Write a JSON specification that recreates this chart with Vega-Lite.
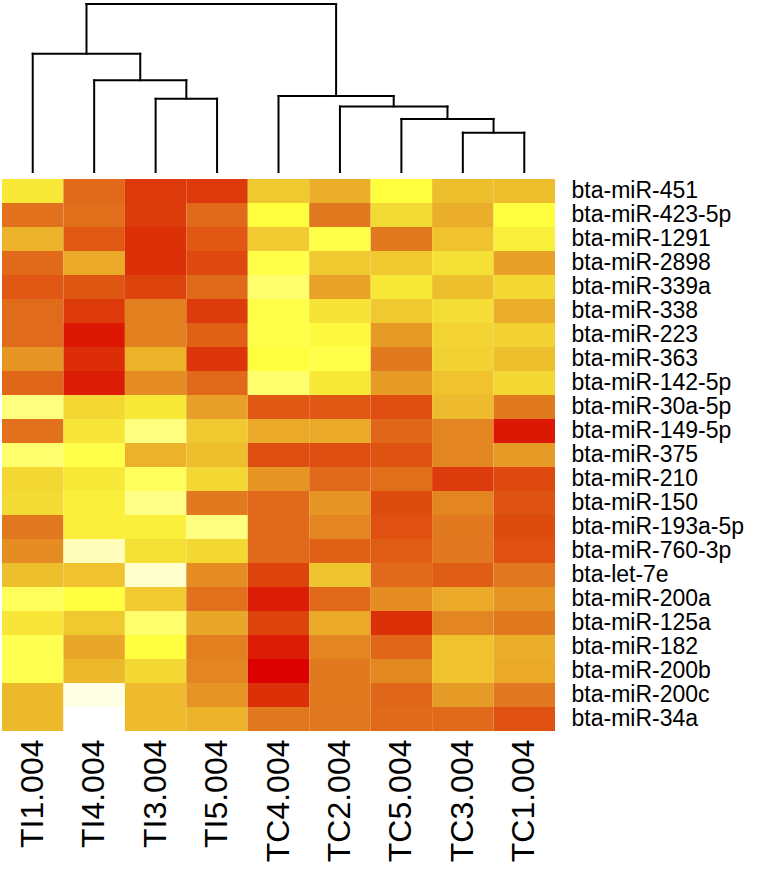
{
  "$schema": "https://vega.github.io/schema/vega-lite/v6.json",
  "padding": {"left": 2, "top": 2, "right": 0, "bottom": 0},
  "autosize": {"type": "pad"},
  "config": {"view": {"stroke": null}, "font": "Liberation Sans"},
  "datasets": {
    "dendro": [
      {"x": 0.5, "x2": 0.5, "y": 0, "y2": 352},
      {"x": 1.5, "x2": 1.5, "y": 0, "y2": 273},
      {"x": 2.5, "x2": 2.5, "y": 0, "y2": 218},
      {"x": 3.5, "x2": 3.5, "y": 0, "y2": 218},
      {"x": 4.5, "x2": 4.5, "y": 0, "y2": 226},
      {"x": 5.5, "x2": 5.5, "y": 0, "y2": 195},
      {"x": 6.5, "x2": 6.5, "y": 0, "y2": 158},
      {"x": 7.5, "x2": 7.5, "y": 0, "y2": 117},
      {"x": 8.5, "x2": 8.5, "y": 0, "y2": 117},
      {"x": 2.5, "x2": 3.5, "y": 218, "y2": 218},
      {"x": 1.5, "x2": 3.0, "y": 273, "y2": 273},
      {"x": 3.0, "x2": 3.0, "y": 218, "y2": 273},
      {"x": 0.5, "x2": 2.25, "y": 352, "y2": 352},
      {"x": 2.25, "x2": 2.25, "y": 273, "y2": 352},
      {"x": 7.5, "x2": 8.5, "y": 117, "y2": 117},
      {"x": 6.5, "x2": 8.0, "y": 158, "y2": 158},
      {"x": 8.0, "x2": 8.0, "y": 117, "y2": 158},
      {"x": 5.5, "x2": 7.25, "y": 195, "y2": 195},
      {"x": 7.25, "x2": 7.25, "y": 158, "y2": 195},
      {"x": 4.5, "x2": 6.375, "y": 226, "y2": 226},
      {"x": 6.375, "x2": 6.375, "y": 195, "y2": 226},
      {"x": 1.375, "x2": 5.4375, "y": 500, "y2": 500},
      {"x": 1.375, "x2": 1.375, "y": 352, "y2": 500},
      {"x": 5.4375, "x2": 5.4375, "y": 226, "y2": 500}
    ],
    "heat": [
      {"mirna": "bta-miR-451", "sample": "TI1.004", "v": 0.78},
      {"mirna": "bta-miR-451", "sample": "TI4.004", "v": 0.30},
      {"mirna": "bta-miR-451", "sample": "TI3.004", "v": 0.12},
      {"mirna": "bta-miR-451", "sample": "TI5.004", "v": 0.12},
      {"mirna": "bta-miR-451", "sample": "TC4.004", "v": 0.67},
      {"mirna": "bta-miR-451", "sample": "TC2.004", "v": 0.58},
      {"mirna": "bta-miR-451", "sample": "TC5.004", "v": 0.85},
      {"mirna": "bta-miR-451", "sample": "TC3.004", "v": 0.64},
      {"mirna": "bta-miR-451", "sample": "TC1.004", "v": 0.64},

      {"mirna": "bta-miR-423-5p", "sample": "TI1.004", "v": 0.33},
      {"mirna": "bta-miR-423-5p", "sample": "TI4.004", "v": 0.32},
      {"mirna": "bta-miR-423-5p", "sample": "TI3.004", "v": 0.13},
      {"mirna": "bta-miR-423-5p", "sample": "TI5.004", "v": 0.30},
      {"mirna": "bta-miR-423-5p", "sample": "TC4.004", "v": 0.85},
      {"mirna": "bta-miR-423-5p", "sample": "TC2.004", "v": 0.37},
      {"mirna": "bta-miR-423-5p", "sample": "TC5.004", "v": 0.73},
      {"mirna": "bta-miR-423-5p", "sample": "TC3.004", "v": 0.58},
      {"mirna": "bta-miR-423-5p", "sample": "TC1.004", "v": 0.85},

      {"mirna": "bta-miR-1291", "sample": "TI1.004", "v": 0.60},
      {"mirna": "bta-miR-1291", "sample": "TI4.004", "v": 0.25},
      {"mirna": "bta-miR-1291", "sample": "TI3.004", "v": 0.10},
      {"mirna": "bta-miR-1291", "sample": "TI5.004", "v": 0.24},
      {"mirna": "bta-miR-1291", "sample": "TC4.004", "v": 0.68},
      {"mirna": "bta-miR-1291", "sample": "TC2.004", "v": 0.86},
      {"mirna": "bta-miR-1291", "sample": "TC5.004", "v": 0.37},
      {"mirna": "bta-miR-1291", "sample": "TC3.004", "v": 0.65},
      {"mirna": "bta-miR-1291", "sample": "TC1.004", "v": 0.80},

      {"mirna": "bta-miR-2898", "sample": "TI1.004", "v": 0.30},
      {"mirna": "bta-miR-2898", "sample": "TI4.004", "v": 0.56},
      {"mirna": "bta-miR-2898", "sample": "TI3.004", "v": 0.10},
      {"mirna": "bta-miR-2898", "sample": "TI5.004", "v": 0.18},
      {"mirna": "bta-miR-2898", "sample": "TC4.004", "v": 0.86},
      {"mirna": "bta-miR-2898", "sample": "TC2.004", "v": 0.67},
      {"mirna": "bta-miR-2898", "sample": "TC5.004", "v": 0.67},
      {"mirna": "bta-miR-2898", "sample": "TC3.004", "v": 0.75},
      {"mirna": "bta-miR-2898", "sample": "TC1.004", "v": 0.52},

      {"mirna": "bta-miR-339a", "sample": "TI1.004", "v": 0.24},
      {"mirna": "bta-miR-339a", "sample": "TI4.004", "v": 0.23},
      {"mirna": "bta-miR-339a", "sample": "TI3.004", "v": 0.16},
      {"mirna": "bta-miR-339a", "sample": "TI5.004", "v": 0.30},
      {"mirna": "bta-miR-339a", "sample": "TC4.004", "v": 0.90},
      {"mirna": "bta-miR-339a", "sample": "TC2.004", "v": 0.53},
      {"mirna": "bta-miR-339a", "sample": "TC5.004", "v": 0.78},
      {"mirna": "bta-miR-339a", "sample": "TC3.004", "v": 0.64},
      {"mirna": "bta-miR-339a", "sample": "TC1.004", "v": 0.72},

      {"mirna": "bta-miR-338", "sample": "TI1.004", "v": 0.31},
      {"mirna": "bta-miR-338", "sample": "TI4.004", "v": 0.12},
      {"mirna": "bta-miR-338", "sample": "TI3.004", "v": 0.40},
      {"mirna": "bta-miR-338", "sample": "TI5.004", "v": 0.13},
      {"mirna": "bta-miR-338", "sample": "TC4.004", "v": 0.86},
      {"mirna": "bta-miR-338", "sample": "TC2.004", "v": 0.76},
      {"mirna": "bta-miR-338", "sample": "TC5.004", "v": 0.67},
      {"mirna": "bta-miR-338", "sample": "TC3.004", "v": 0.74},
      {"mirna": "bta-miR-338", "sample": "TC1.004", "v": 0.58},

      {"mirna": "bta-miR-223", "sample": "TI1.004", "v": 0.31},
      {"mirna": "bta-miR-223", "sample": "TI4.004", "v": 0.05},
      {"mirna": "bta-miR-223", "sample": "TI3.004", "v": 0.40},
      {"mirna": "bta-miR-223", "sample": "TI5.004", "v": 0.27},
      {"mirna": "bta-miR-223", "sample": "TC4.004", "v": 0.86},
      {"mirna": "bta-miR-223", "sample": "TC2.004", "v": 0.83},
      {"mirna": "bta-miR-223", "sample": "TC5.004", "v": 0.50},
      {"mirna": "bta-miR-223", "sample": "TC3.004", "v": 0.71},
      {"mirna": "bta-miR-223", "sample": "TC1.004", "v": 0.70},

      {"mirna": "bta-miR-363", "sample": "TI1.004", "v": 0.48},
      {"mirna": "bta-miR-363", "sample": "TI4.004", "v": 0.09},
      {"mirna": "bta-miR-363", "sample": "TI3.004", "v": 0.60},
      {"mirna": "bta-miR-363", "sample": "TI5.004", "v": 0.11},
      {"mirna": "bta-miR-363", "sample": "TC4.004", "v": 0.85},
      {"mirna": "bta-miR-363", "sample": "TC2.004", "v": 0.86},
      {"mirna": "bta-miR-363", "sample": "TC5.004", "v": 0.37},
      {"mirna": "bta-miR-363", "sample": "TC3.004", "v": 0.70},
      {"mirna": "bta-miR-363", "sample": "TC1.004", "v": 0.64},

      {"mirna": "bta-miR-142-5p", "sample": "TI1.004", "v": 0.29},
      {"mirna": "bta-miR-142-5p", "sample": "TI4.004", "v": 0.06},
      {"mirna": "bta-miR-142-5p", "sample": "TI3.004", "v": 0.45},
      {"mirna": "bta-miR-142-5p", "sample": "TI5.004", "v": 0.30},
      {"mirna": "bta-miR-142-5p", "sample": "TC4.004", "v": 0.90},
      {"mirna": "bta-miR-142-5p", "sample": "TC2.004", "v": 0.78},
      {"mirna": "bta-miR-142-5p", "sample": "TC5.004", "v": 0.50},
      {"mirna": "bta-miR-142-5p", "sample": "TC3.004", "v": 0.65},
      {"mirna": "bta-miR-142-5p", "sample": "TC1.004", "v": 0.72},

      {"mirna": "bta-miR-30a-5p", "sample": "TI1.004", "v": 0.92},
      {"mirna": "bta-miR-30a-5p", "sample": "TI4.004", "v": 0.72},
      {"mirna": "bta-miR-30a-5p", "sample": "TI3.004", "v": 0.78},
      {"mirna": "bta-miR-30a-5p", "sample": "TI5.004", "v": 0.52},
      {"mirna": "bta-miR-30a-5p", "sample": "TC4.004", "v": 0.24},
      {"mirna": "bta-miR-30a-5p", "sample": "TC2.004", "v": 0.24},
      {"mirna": "bta-miR-30a-5p", "sample": "TC5.004", "v": 0.20},
      {"mirna": "bta-miR-30a-5p", "sample": "TC3.004", "v": 0.63},
      {"mirna": "bta-miR-30a-5p", "sample": "TC1.004", "v": 0.37},

      {"mirna": "bta-miR-149-5p", "sample": "TI1.004", "v": 0.33},
      {"mirna": "bta-miR-149-5p", "sample": "TI4.004", "v": 0.77},
      {"mirna": "bta-miR-149-5p", "sample": "TI3.004", "v": 0.92},
      {"mirna": "bta-miR-149-5p", "sample": "TI5.004", "v": 0.67},
      {"mirna": "bta-miR-149-5p", "sample": "TC4.004", "v": 0.56},
      {"mirna": "bta-miR-149-5p", "sample": "TC2.004", "v": 0.56},
      {"mirna": "bta-miR-149-5p", "sample": "TC5.004", "v": 0.29},
      {"mirna": "bta-miR-149-5p", "sample": "TC3.004", "v": 0.42},
      {"mirna": "bta-miR-149-5p", "sample": "TC1.004", "v": 0.05},

      {"mirna": "bta-miR-375", "sample": "TI1.004", "v": 0.90},
      {"mirna": "bta-miR-375", "sample": "TI4.004", "v": 0.86},
      {"mirna": "bta-miR-375", "sample": "TI3.004", "v": 0.60},
      {"mirna": "bta-miR-375", "sample": "TI5.004", "v": 0.64},
      {"mirna": "bta-miR-375", "sample": "TC4.004", "v": 0.20},
      {"mirna": "bta-miR-375", "sample": "TC2.004", "v": 0.20},
      {"mirna": "bta-miR-375", "sample": "TC5.004", "v": 0.22},
      {"mirna": "bta-miR-375", "sample": "TC3.004", "v": 0.42},
      {"mirna": "bta-miR-375", "sample": "TC1.004", "v": 0.50},

      {"mirna": "bta-miR-210", "sample": "TI1.004", "v": 0.72},
      {"mirna": "bta-miR-210", "sample": "TI4.004", "v": 0.78},
      {"mirna": "bta-miR-210", "sample": "TI3.004", "v": 0.88},
      {"mirna": "bta-miR-210", "sample": "TI5.004", "v": 0.72},
      {"mirna": "bta-miR-210", "sample": "TC4.004", "v": 0.48},
      {"mirna": "bta-miR-210", "sample": "TC2.004", "v": 0.30},
      {"mirna": "bta-miR-210", "sample": "TC5.004", "v": 0.32},
      {"mirna": "bta-miR-210", "sample": "TC3.004", "v": 0.13},
      {"mirna": "bta-miR-210", "sample": "TC1.004", "v": 0.18},

      {"mirna": "bta-miR-150", "sample": "TI1.004", "v": 0.73},
      {"mirna": "bta-miR-150", "sample": "TI4.004", "v": 0.80},
      {"mirna": "bta-miR-150", "sample": "TI3.004", "v": 0.93},
      {"mirna": "bta-miR-150", "sample": "TI5.004", "v": 0.37},
      {"mirna": "bta-miR-150", "sample": "TC4.004", "v": 0.30},
      {"mirna": "bta-miR-150", "sample": "TC2.004", "v": 0.48},
      {"mirna": "bta-miR-150", "sample": "TC5.004", "v": 0.19},
      {"mirna": "bta-miR-150", "sample": "TC3.004", "v": 0.42},
      {"mirna": "bta-miR-150", "sample": "TC1.004", "v": 0.22},

      {"mirna": "bta-miR-193a-5p", "sample": "TI1.004", "v": 0.36},
      {"mirna": "bta-miR-193a-5p", "sample": "TI4.004", "v": 0.80},
      {"mirna": "bta-miR-193a-5p", "sample": "TI3.004", "v": 0.80},
      {"mirna": "bta-miR-193a-5p", "sample": "TI5.004", "v": 0.92},
      {"mirna": "bta-miR-193a-5p", "sample": "TC4.004", "v": 0.30},
      {"mirna": "bta-miR-193a-5p", "sample": "TC2.004", "v": 0.42},
      {"mirna": "bta-miR-193a-5p", "sample": "TC5.004", "v": 0.21},
      {"mirna": "bta-miR-193a-5p", "sample": "TC3.004", "v": 0.37},
      {"mirna": "bta-miR-193a-5p", "sample": "TC1.004", "v": 0.19},

      {"mirna": "bta-miR-760-3p", "sample": "TI1.004", "v": 0.45},
      {"mirna": "bta-miR-760-3p", "sample": "TI4.004", "v": 0.96},
      {"mirna": "bta-miR-760-3p", "sample": "TI3.004", "v": 0.75},
      {"mirna": "bta-miR-760-3p", "sample": "TI5.004", "v": 0.72},
      {"mirna": "bta-miR-760-3p", "sample": "TC4.004", "v": 0.30},
      {"mirna": "bta-miR-760-3p", "sample": "TC2.004", "v": 0.27},
      {"mirna": "bta-miR-760-3p", "sample": "TC5.004", "v": 0.26},
      {"mirna": "bta-miR-760-3p", "sample": "TC3.004", "v": 0.36},
      {"mirna": "bta-miR-760-3p", "sample": "TC1.004", "v": 0.21},

      {"mirna": "bta-let-7e", "sample": "TI1.004", "v": 0.64},
      {"mirna": "bta-let-7e", "sample": "TI4.004", "v": 0.65},
      {"mirna": "bta-let-7e", "sample": "TI3.004", "v": 0.97},
      {"mirna": "bta-let-7e", "sample": "TI5.004", "v": 0.45},
      {"mirna": "bta-let-7e", "sample": "TC4.004", "v": 0.16},
      {"mirna": "bta-let-7e", "sample": "TC2.004", "v": 0.66},
      {"mirna": "bta-let-7e", "sample": "TC5.004", "v": 0.30},
      {"mirna": "bta-let-7e", "sample": "TC3.004", "v": 0.26},
      {"mirna": "bta-let-7e", "sample": "TC1.004", "v": 0.36},

      {"mirna": "bta-miR-200a", "sample": "TI1.004", "v": 0.88},
      {"mirna": "bta-miR-200a", "sample": "TI4.004", "v": 0.85},
      {"mirna": "bta-miR-200a", "sample": "TI3.004", "v": 0.68},
      {"mirna": "bta-miR-200a", "sample": "TI5.004", "v": 0.33},
      {"mirna": "bta-miR-200a", "sample": "TC4.004", "v": 0.06},
      {"mirna": "bta-miR-200a", "sample": "TC2.004", "v": 0.30},
      {"mirna": "bta-miR-200a", "sample": "TC5.004", "v": 0.45},
      {"mirna": "bta-miR-200a", "sample": "TC3.004", "v": 0.56},
      {"mirna": "bta-miR-200a", "sample": "TC1.004", "v": 0.48},

      {"mirna": "bta-miR-125a", "sample": "TI1.004", "v": 0.77},
      {"mirna": "bta-miR-125a", "sample": "TI4.004", "v": 0.67},
      {"mirna": "bta-miR-125a", "sample": "TI3.004", "v": 0.90},
      {"mirna": "bta-miR-125a", "sample": "TI5.004", "v": 0.55},
      {"mirna": "bta-miR-125a", "sample": "TC4.004", "v": 0.16},
      {"mirna": "bta-miR-125a", "sample": "TC2.004", "v": 0.56},
      {"mirna": "bta-miR-125a", "sample": "TC5.004", "v": 0.10},
      {"mirna": "bta-miR-125a", "sample": "TC3.004", "v": 0.42},
      {"mirna": "bta-miR-125a", "sample": "TC1.004", "v": 0.37},

      {"mirna": "bta-miR-182", "sample": "TI1.004", "v": 0.87},
      {"mirna": "bta-miR-182", "sample": "TI4.004", "v": 0.55},
      {"mirna": "bta-miR-182", "sample": "TI3.004", "v": 0.85},
      {"mirna": "bta-miR-182", "sample": "TI5.004", "v": 0.40},
      {"mirna": "bta-miR-182", "sample": "TC4.004", "v": 0.06},
      {"mirna": "bta-miR-182", "sample": "TC2.004", "v": 0.42},
      {"mirna": "bta-miR-182", "sample": "TC5.004", "v": 0.29},
      {"mirna": "bta-miR-182", "sample": "TC3.004", "v": 0.65},
      {"mirna": "bta-miR-182", "sample": "TC1.004", "v": 0.58},

      {"mirna": "bta-miR-200b", "sample": "TI1.004", "v": 0.87},
      {"mirna": "bta-miR-200b", "sample": "TI4.004", "v": 0.62},
      {"mirna": "bta-miR-200b", "sample": "TI3.004", "v": 0.72},
      {"mirna": "bta-miR-200b", "sample": "TI5.004", "v": 0.42},
      {"mirna": "bta-miR-200b", "sample": "TC4.004", "v": 0.0},
      {"mirna": "bta-miR-200b", "sample": "TC2.004", "v": 0.37},
      {"mirna": "bta-miR-200b", "sample": "TC5.004", "v": 0.43},
      {"mirna": "bta-miR-200b", "sample": "TC3.004", "v": 0.65},
      {"mirna": "bta-miR-200b", "sample": "TC1.004", "v": 0.56},

      {"mirna": "bta-miR-200c", "sample": "TI1.004", "v": 0.62},
      {"mirna": "bta-miR-200c", "sample": "TI4.004", "v": 0.985},
      {"mirna": "bta-miR-200c", "sample": "TI3.004", "v": 0.63},
      {"mirna": "bta-miR-200c", "sample": "TI5.004", "v": 0.48},
      {"mirna": "bta-miR-200c", "sample": "TC4.004", "v": 0.10},
      {"mirna": "bta-miR-200c", "sample": "TC2.004", "v": 0.37},
      {"mirna": "bta-miR-200c", "sample": "TC5.004", "v": 0.29},
      {"mirna": "bta-miR-200c", "sample": "TC3.004", "v": 0.50},
      {"mirna": "bta-miR-200c", "sample": "TC1.004", "v": 0.36},

      {"mirna": "bta-miR-34a", "sample": "TI1.004", "v": 0.62},
      {"mirna": "bta-miR-34a", "sample": "TI4.004", "v": 1.0},
      {"mirna": "bta-miR-34a", "sample": "TI3.004", "v": 0.63},
      {"mirna": "bta-miR-34a", "sample": "TI5.004", "v": 0.60},
      {"mirna": "bta-miR-34a", "sample": "TC4.004", "v": 0.36},
      {"mirna": "bta-miR-34a", "sample": "TC2.004", "v": 0.36},
      {"mirna": "bta-miR-34a", "sample": "TC5.004", "v": 0.30},
      {"mirna": "bta-miR-34a", "sample": "TC3.004", "v": 0.30},
      {"mirna": "bta-miR-34a", "sample": "TC1.004", "v": 0.21}
    ]
  },
  "vconcat": [
    {
      "width": 553,
      "height": 168,
      "data": {"name": "dendro"},
      "mark": {"type": "rule", "color": "black", "strokeWidth": 2, "strokeCap": "square"},
      "encoding": {
        "x": {"field": "x", "type": "quantitative", "scale": {"domain": [0, 9], "nice": false, "zero": false}, "axis": null},
        "x2": {"field": "x2"},
        "y": {"field": "y", "type": "quantitative", "scale": {"domain": [0, 500], "nice": false}, "axis": null},
        "y2": {"field": "y2"}
      }
    },
    {
      "width": 553,
      "height": 552,
      "data": {"name": "heat"},
      "mark": {"type": "rect"},
      "encoding": {
        "x": {
          "field": "sample", "type": "nominal",
          "sort": ["TI1.004", "TI4.004", "TI3.004", "TI5.004", "TC4.004", "TC2.004", "TC5.004", "TC3.004", "TC1.004"],
          "scale": {"paddingInner": 0, "paddingOuter": 0},
          "axis": {"orient": "bottom", "title": null, "domain": false, "ticks": false, "labelAngle": -90, "labelFontSize": 32, "labelFont": "Liberation Sans", "labelColor": "black", "labelPadding": 8, "labelLimit": 0}
        },
        "y": {
          "field": "mirna", "type": "nominal",
          "sort": ["bta-miR-451", "bta-miR-423-5p", "bta-miR-1291", "bta-miR-2898", "bta-miR-339a", "bta-miR-338", "bta-miR-223", "bta-miR-363", "bta-miR-142-5p", "bta-miR-30a-5p", "bta-miR-149-5p", "bta-miR-375", "bta-miR-210", "bta-miR-150", "bta-miR-193a-5p", "bta-miR-760-3p", "bta-let-7e", "bta-miR-200a", "bta-miR-125a", "bta-miR-182", "bta-miR-200b", "bta-miR-200c", "bta-miR-34a"],
          "scale": {"paddingInner": 0, "paddingOuter": 0},
          "axis": {"orient": "right", "title": null, "domain": false, "ticks": false, "labelFontSize": 23, "labelFont": "Liberation Sans", "labelColor": "black", "labelPadding": 16, "labelLimit": 0}
        },
        "color": {
          "field": "v", "type": "quantitative",
          "scale": {
            "domain": [0, 0.12, 0.25, 0.3, 0.4, 0.52, 0.6, 0.67, 0.75, 0.85, 0.93, 1.0],
            "range": ["#dc0000", "#dc3a0a", "#e05a14", "#e06a1a", "#e28020", "#e8a028", "#ebb22a", "#f0c830", "#f5e035", "#ffff40", "#ffff88", "#ffffff"],
            "interpolate": "rgb"
          },
          "legend": null
        }
      }
    }
  ],
  "spacing": 5
}
